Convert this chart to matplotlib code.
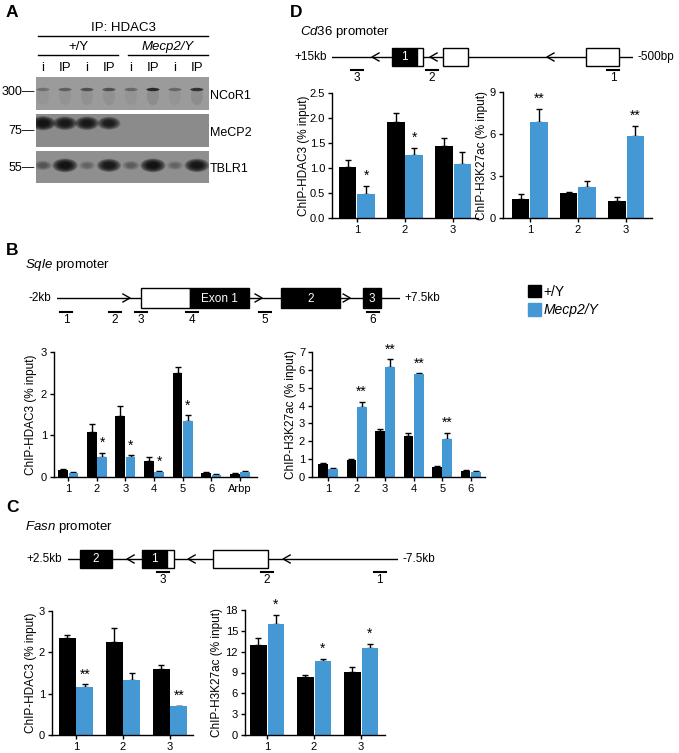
import numpy as np
import matplotlib.pyplot as plt
from matplotlib.patches import Rectangle, Ellipse, Patch

plt.rcParams['font.family'] = ['Liberation Sans', 'DejaVu Sans']
plt.rcParams['mathtext.fontset'] = 'custom'
plt.rcParams['mathtext.it'] = 'Liberation Sans:italic'
plt.rcParams['mathtext.rm'] = 'Liberation Sans'
plt.rcParams['axes.linewidth'] = 1.0

W, H = 679, 753
BLUE = '#4499d5'

# ---- panel A: western blot ----
lanes = ['i', 'IP', 'i', 'IP', 'i', 'IP', 'i', 'IP']
blot_names = ['NCoR1', 'MeCP2', 'TBLR1']
blot_markers = ['300', '75', '55']
ncor1_band = [0.25, 0.35, 0.45, 0.45, 0.3, 0.7, 0.3, 0.65]
mecp2_band = [1.0, 0.9, 0.9, 0.8, 0.0, 0.0, 0.0, 0.0]
tblr1_band = [0.3, 1.0, 0.2, 0.9, 0.25, 1.0, 0.2, 0.95]

# ---- panel B: Sqle ----
sqle_sites = ['1', '2', '3', '4', '5', '6', 'Arbp']
sqle_hdac3_wt = [0.16, 1.08, 1.47, 0.39, 2.50, 0.10, 0.08]
sqle_hdac3_wt_err = [0.03, 0.19, 0.23, 0.09, 0.15, 0.02, 0.01]
sqle_hdac3_ko = [0.10, 0.47, 0.48, 0.11, 1.35, 0.06, 0.12]
sqle_hdac3_ko_err = [0.02, 0.11, 0.04, 0.03, 0.13, 0.01, 0.02]
sqle_hdac3_sig = ['', '*', '*', '*', '*', '', '']

sqle_k27_sites = ['1', '2', '3', '4', '5', '6']
sqle_k27_wt = [0.72, 0.97, 2.58, 2.28, 0.56, 0.35]
sqle_k27_wt_err = [0.06, 0.05, 0.12, 0.18, 0.06, 0.04]
sqle_k27_ko = [0.45, 3.92, 6.15, 5.75, 2.12, 0.28]
sqle_k27_ko_err = [0.04, 0.30, 0.45, 0.06, 0.35, 0.04]
sqle_k27_sig = ['', '**', '**', '**', '**', '']

# ---- panel C: Fasn ----
fasn_sites = ['1', '2', '3']
fasn_hdac3_wt = [2.34, 2.26, 1.60]
fasn_hdac3_wt_err = [0.08, 0.34, 0.09]
fasn_hdac3_ko = [1.15, 1.33, 0.69]
fasn_hdac3_ko_err = [0.08, 0.18, 0.02]
fasn_hdac3_sig = ['**', '', '**']
fasn_k27_wt = [13.0, 8.3, 9.1]
fasn_k27_wt_err = [0.9, 0.35, 0.65]
fasn_k27_ko = [16.0, 10.6, 12.6]
fasn_k27_ko_err = [1.3, 0.35, 0.5]
fasn_k27_sig = ['*', '*', '*']

# ---- panel D: Cd36 ----
cd36_sites = ['1', '2', '3']
cd36_hdac3_wt = [1.02, 1.93, 1.45]
cd36_hdac3_wt_err = [0.14, 0.17, 0.15]
cd36_hdac3_ko = [0.49, 1.26, 1.09]
cd36_hdac3_ko_err = [0.15, 0.14, 0.24]
cd36_hdac3_sig = ['*', '*', '']
cd36_k27_wt = [1.35, 1.80, 1.20]
cd36_k27_wt_err = [0.40, 0.06, 0.30]
cd36_k27_ko = [6.85, 2.25, 5.85]
cd36_k27_ko_err = [0.95, 0.38, 0.75]
cd36_k27_sig = ['**', '', '**']

# gene structures (kb): (start, end, fill, label)
sqle_exons = [(0.33, 1.68, 'white', ''), (1.68, 3.32, 'black', 'Exon 1'),
              (4.20, 5.84, 'black', '2'), (6.48, 6.97, 'black', '3')]
sqle_arrows = [0.02, 3.68, 6.12]
sqle_primers = [-1.75, -0.39, 0.33, 1.74, 3.76, 6.75]

fasn_exons = [(2.14, 1.17, 'black', '2'), (0.26, -0.50, 'black', '1'),
              (-0.50, -0.71, 'white', ''), (-1.89, -3.56, 'white', '')]
fasn_arrows = [0.71, -1.14, -4.02]
fasn_primers = [-0.38, -3.53, -6.95]
fasn_primer_labels = ['3', '2', '1']

cd36_exons = [(11.91, 10.62, 'black', '1'), (10.62, 10.31, 'white', ''),
              (9.28, 8.00, 'white', ''), (1.92, 0.22, 'white', '')]
cd36_arrows = [12.94, 9.95, 3.93]
cd36_primers = [13.71, 9.85, 0.53]
cd36_primer_labels = ['3', '2', '1']

fig = plt.figure(figsize=(W / 100, H / 100), dpi=100)


def px_axes(x0, y0, x1, y1):
    return fig.add_axes([x0 / W, 1 - y1 / H, (x1 - x0) / W, (y1 - y0) / H])


ov = px_axes(0, 0, W, H)
ov.set_xlim(0, W)
ov.set_ylim(H, 0)
ov.axis('off')

for letter, (x, y) in zip('ABCD', [(6, 12), (6, 250), (6, 508), (290, 12)]):
    ov.text(x, y, letter, fontsize=12.5, fontweight='bold', va='center', ha='left')

# ---- panel A ----
ov.text(123, 28, 'IP: HDAC3', fontsize=9.5, ha='center', va='center')
ov.plot([38, 208], [36, 36], color='black', lw=1)
ov.text(78, 47, '+/Y', fontsize=9.5, ha='center', va='center')
ov.text(168, 47, 'Mecp2/Y', fontsize=9.5, ha='center', va='center', style='italic')
ov.plot([38, 118], [55, 55], color='black', lw=1)
ov.plot([128, 208], [55, 55], color='black', lw=1)

blot_boxes = [(77, 110), (114, 147), (151, 183)]
blot_bg = ['#9b9b9b', '#8b8b8b', '#8f8f8f']
bands = [ncor1_band, mecp2_band, tblr1_band]
band_y = [0.62, 0.72, 0.55]
marker_y = [92, 131, 168]
for k, (y0, y1) in enumerate(blot_boxes):
    bx = px_axes(36, y0, 209, y1)
    bx.set_facecolor(blot_bg[k])
    bx.set_xlim(-0.32, 7.55)
    bx.set_ylim(0, 1)
    bx.set_xticks([])
    bx.set_yticks([])
    for s in bx.spines.values():
        s.set_visible(False)
    for i, inten in enumerate(bands[k]):
        if inten <= 0:
            continue
        if k == 0:
            bx.add_patch(Ellipse((i, 0.42), 0.55, 0.55, color='#333333', alpha=0.2 * inten, lw=0))
            bx.add_patch(Ellipse((i, band_y[k]), 0.6, 0.1, color='black', alpha=inten, lw=0))
        else:
            wd = 0.5 + 0.35 * inten
            ht = 0.18 + 0.14 * inten
            for t in np.linspace(1.35, 0.55, 7):
                bx.add_patch(Ellipse((i, band_y[k]), wd * t, ht * t,
                                     color='black', alpha=0.24 * inten, lw=0))
    ov.text(210, (y0 + y1) / 2 + 2, blot_names[k], fontsize=9, ha='left', va='center')
    ov.text(35, marker_y[k], blot_markers[k] + '\u2014', fontsize=9, ha='right', va='center')

for i, lab in enumerate(lanes):
    ov.text(43 + 22 * i, 68, lab, fontsize=9.5, ha='center', va='center')


# ---- gene diagrams ----
def gene_diagram(box, start, end, exons, arrows, primers, primer_labels,
                 left_label, right_label, pointing, half_h):
    x0, yc, x1 = box
    ax = px_axes(x0, yc - 30, x1, yc + 30)
    ax.set_xlim(start, end)
    ax.set_ylim(30, -30)
    ax.axis('off')
    ppu = (x1 - x0) / (end - start)
    ax.plot([start, end], [0, 0], color='black', lw=1, zorder=1)
    for a, b, fill, lab in exons:
        ax.add_patch(Rectangle((min(a, b), -half_h), abs(b - a), 2 * half_h,
                               facecolor=fill, edgecolor='black', lw=1, zorder=3))
        if lab:
            ax.text((a + b) / 2, 0.5, lab, color='white', fontsize=8.5,
                    ha='center', va='center', zorder=4)
    for x in arrows:
        d = -pointing * 7 / ppu
        ax.plot([x + d, x, x + d], [-4, 0, 4], color='black', lw=1, zorder=2)
    for x, lab in zip(primers, primer_labels):
        w = 6 / abs(ppu)
        ax.plot([x - w, x + w], [half_h + 4, half_h + 4], color='black', lw=1.5)
        ax.text(x, half_h + 12, lab, fontsize=8.5, ha='center', va='center')
    ax.annotate(left_label, xy=(start, 0), xytext=(-4, 0), textcoords='offset points',
                ha='right', va='center', fontsize=8.5)
    ax.annotate(right_label, xy=(end, 0), xytext=(3, 0), textcoords='offset points',
                ha='left', va='center', fontsize=8.5)
    return ax


ov.text(25, 265, r'$\it{Sqle}$ promoter', fontsize=9.5, ha='left', va='center')
gene_diagram((57, 298, 400), -2, 7.5, sqle_exons, sqle_arrows, sqle_primers,
             [str(i + 1) for i in range(6)], '-2kb', '+7.5kb', 1, 10)

ov.text(25, 527, r'$\it{Fasn}$ promoter', fontsize=9.5, ha='left', va='center')
gene_diagram((68, 559, 398), 2.5, -7.5, fasn_exons, fasn_arrows, fasn_primers,
             fasn_primer_labels, '+2.5kb', '-7.5kb', -1, 9)

ov.text(300, 32, r'$\it{Cd36}$ promoter', fontsize=9.5, ha='left', va='center')
gene_diagram((332, 57, 633), 15, -0.5, cd36_exons, cd36_arrows, cd36_primers,
             cd36_primer_labels, '+15kb', '-500bp', -1, 9)


# ---- bar charts ----
def bar_panel(box, sites, wt, wt_err, ko, ko_err, sig, ylim, yticks, ytl, xlim,
              ylabel, label_x, width=0.34):
    ax = px_axes(*box)
    x = np.arange(len(sites))
    wt, wt_err, ko, ko_err = map(np.asarray, (wt, wt_err, ko, ko_err))
    off = width / 2 + 0.01
    ax.bar(x - off, wt, width, color='black', zorder=2)
    ax.bar(x + off, ko, width, color=BLUE, zorder=2)
    z = np.zeros(len(x))
    ax.errorbar(x - off, wt, yerr=[z, wt_err], fmt='none', ecolor='black',
                elinewidth=1, capsize=2.5, capthick=1, zorder=1)
    ax.errorbar(x + off, ko, yerr=[z, ko_err], fmt='none', ecolor='black',
                elinewidth=1, capsize=2.5, capthick=1, zorder=1)
    for xi, top, s in zip(x + off, ko + ko_err, sig):
        if s:
            ax.annotate(s, xy=(xi, top), xytext=(0, 2), textcoords='offset points',
                        ha='center', va='bottom', fontsize=10, annotation_clip=False)
    ax.set_xlim(*xlim)
    ax.set_ylim(*ylim)
    ax.set_yticks(yticks)
    ax.set_yticklabels(ytl)
    ax.set_xticks(x)
    ax.set_xticklabels(sites)
    ax.spines['top'].set_visible(False)
    ax.spines['right'].set_visible(False)
    ax.tick_params(labelsize=8, length=3, width=1, pad=2)
    ax.set_ylabel(ylabel, fontsize=8.5)
    ax.yaxis.set_label_coords(label_x, 0.5)
    return ax


bar_panel((54, 352, 257, 477), sqle_sites, sqle_hdac3_wt, sqle_hdac3_wt_err,
          sqle_hdac3_ko, sqle_hdac3_ko_err, sqle_hdac3_sig,
          (0, 3), [0, 1, 2, 3], ['0', '1', '2', '3'], (-0.5, 6.6),
          'ChIP-HDAC3 (% input)', -0.084)

bar_panel((312, 352, 485, 477), sqle_k27_sites, sqle_k27_wt, sqle_k27_wt_err,
          sqle_k27_ko, sqle_k27_ko_err, sqle_k27_sig,
          (0, 7), range(8), [str(v) for v in range(8)], (-0.56, 5.5),
          'ChIP-H3K27ac (% input)', -0.087)

bar_panel((52, 611, 193, 735), fasn_sites, fasn_hdac3_wt, fasn_hdac3_wt_err,
          fasn_hdac3_ko, fasn_hdac3_ko_err, fasn_hdac3_sig,
          (0, 3), [0, 1, 2, 3], ['0', '1', '2', '3'], (-0.51, 2.49),
          'ChIP-HDAC3 (% input)', -0.106, width=0.36)

bar_panel((245, 610, 385, 735), fasn_sites, fasn_k27_wt, fasn_k27_wt_err,
          fasn_k27_ko, fasn_k27_ko_err, fasn_k27_sig,
          (0, 18), range(0, 19, 3), [str(v) for v in range(0, 19, 3)],
          (-0.47, 2.51), 'ChIP-H3K27ac (% input)', -0.157, width=0.36)

bar_panel((332, 93, 478, 218), cd36_sites, cd36_hdac3_wt, cd36_hdac3_wt_err,
          cd36_hdac3_ko, cd36_hdac3_ko_err, cd36_hdac3_sig,
          (0, 2.5), [0, 0.5, 1.0, 1.5, 2.0, 2.5],
          ['0.0', '0.5', '1.0', '1.5', '2.0', '2.5'], (-0.52, 2.52),
          'ChIP-HDAC3 (% input)', -0.151, width=0.36)

bar_panel((503, 92, 652, 218), cd36_sites, cd36_k27_wt, cd36_k27_wt_err,
          cd36_k27_ko, cd36_k27_ko_err, cd36_k27_sig,
          (0, 9), [0, 3, 6, 9], ['0', '3', '6', '9'], (-0.56, 2.54),
          'ChIP-H3K27ac (% input)', -0.1, width=0.36)

handles = [Patch(color='black'), Patch(color=BLUE)]
leg = fig.legend(handles, ['+/Y', 'Mecp2/Y'], loc='upper left',
                 bbox_to_anchor=(515 / W, 1 - 272 / H), frameon=False, fontsize=10,
                 handlelength=1.0, handleheight=1.0, handletextpad=0.15, labelspacing=0.35)
leg.get_texts()[1].set_style('italic')

fig.savefig('out.png', dpi=100)
